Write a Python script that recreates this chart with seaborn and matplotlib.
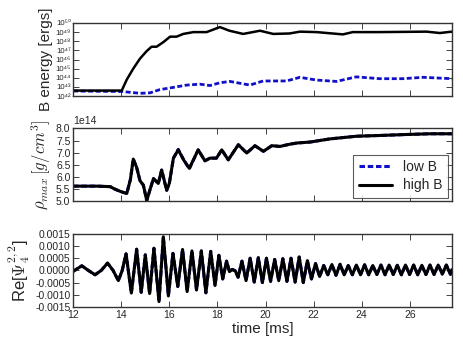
import numpy as np
import matplotlib
matplotlib.use("Agg")
import matplotlib.pyplot as plt
from matplotlib.ticker import FixedLocator, FuncFormatter, FormatStrFormatter, MultipleLocator
import seaborn as sns

# --- top panel: magnetic energy (log10 of ergs) ---
eb_high_time = [12.0, 13.0, 14.02, 14.23, 14.5, 14.78, 15.05, 15.26, 15.47, 15.75,
                16.03, 16.3, 16.58, 17.0, 17.55, 17.8, 18.1, 18.5, 19.07, 19.77,
                20.32, 21.0, 21.43, 22.12, 23.22, 23.63, 24.75, 26.69, 27.25, 27.75]
eb_high_log = [42.6, 42.6, 42.6, 43.8, 45.0, 46.1, 46.9, 47.4, 47.4, 47.9,
               48.5, 48.5, 48.8, 49.0, 49.0, 49.25, 49.55, 49.15, 48.8, 49.15,
               48.8, 48.85, 49.05, 49.0, 48.75, 49.0, 49.0, 49.05, 48.9, 49.05]
eb_low_time = [12.0, 14.02, 14.78, 15.2, 15.6, 16.17, 16.72, 17.27, 17.69, 18.1,
               18.52, 19.35, 19.9, 20.87, 21.43, 22.12, 22.95, 23.77, 24.75, 25.7,
               26.55, 27.75]
eb_low_log = [42.55, 42.5, 42.3, 42.35, 42.7, 42.95, 43.2, 43.3, 43.15, 43.45,
              43.6, 43.2, 43.65, 43.65, 44.05, 43.75, 43.6, 44.1, 43.9, 43.9,
              44.05, 43.9]
eb_decades = [42, 43, 44, 45, 46, 47, 48, 49, 50]

# --- middle panel: max density (units of 1e14 g/cm^3) ---
rho_time = [12.0, 13.0, 13.54, 13.75, 14.0, 14.23, 14.38, 14.5, 14.64, 14.78,
            14.92, 15.06, 15.2, 15.34, 15.54, 15.68, 15.89, 16.0, 16.17, 16.37,
            16.6, 16.83, 17.2, 17.48, 17.69, 17.96, 18.18, 18.45, 18.87, 19.22,
            19.56, 19.91, 20.26, 20.6, 21.0, 21.3, 21.85, 22.68, 23.79, 24.75,
            25.86, 26.83, 27.75]
rho_high = [5.63, 5.63, 5.61, 5.5, 5.4, 5.33, 5.9, 6.74, 6.4, 5.85,
            5.67, 5.04, 5.5, 5.94, 5.74, 6.29, 5.46, 5.75, 6.78, 7.12,
            6.7, 6.36, 7.12, 6.67, 6.78, 6.78, 7.12, 6.71, 7.33, 6.99,
            7.29, 7.06, 7.29, 7.26, 7.35, 7.4, 7.44, 7.57, 7.68, 7.71,
            7.75, 7.78, 7.78]
rho_low = [5.63, 5.63, 5.61, 5.5, 5.4, 5.33, 5.9, 6.74, 6.4, 5.85,
           5.67, 5.04, 5.5, 5.94, 5.74, 6.29, 5.46, 5.75, 6.78, 7.14,
           6.7, 6.34, 7.12, 6.67, 6.78, 6.78, 7.12, 6.71, 7.33, 6.99,
           7.29, 7.06, 7.29, 7.26, 7.35, 7.4, 7.44, 7.57, 7.68, 7.71,
           7.75, 7.78, 7.78]

# --- bottom panel: Re[Psi4^(2,2)] ---
gw_time = [
    12.00, 12.36, 12.63, 12.91, 13.17, 13.43, 13.66, 13.88, 14.04, 14.20,
    14.42, 14.64, 14.83, 15.00, 15.18, 15.36, 15.57, 15.75, 15.96, 16.15,
    16.35, 16.55, 16.74, 16.94, 17.13, 17.33, 17.52, 17.72, 17.90, 18.06,
    18.22, 18.38, 18.50, 18.62, 18.74, 18.86, 19.02, 19.19, 19.36, 19.53,
    19.70, 19.87, 20.04, 20.21, 20.38, 20.55, 20.72, 20.89, 21.06, 21.23,
    21.40, 21.57, 21.74, 21.91, 22.08, 22.25, 22.42, 22.59, 22.76, 22.93,
    23.10, 23.27, 23.44, 23.61, 23.78, 23.95, 24.12, 24.29, 24.46, 24.63,
    24.80, 24.97, 25.14, 25.31, 25.48, 25.65, 25.82, 25.99, 26.16, 26.33,
    26.50, 26.67, 26.84, 27.01, 27.18, 27.35, 27.52, 27.69, 27.75,
]
gw_value = [
    -0.00004, 0.00019, 0.0, -0.00018, 0.0, 0.00030, 0.0, -0.00042, 0.0, 0.00068,
    -0.00093, 0.00087, -0.00090, 0.00064, -0.00095, 0.00091, -0.00128, 0.00138, -0.00105, 0.00070,
    -0.00066, 0.00086, -0.00087, 0.00080, -0.00080, 0.00080, -0.00092, 0.00078, -0.00062, 0.00062,
    -0.00035, 0.00038, -0.00005, 0.00004, -0.00002, -0.00028, 0.00038, -0.00042, 0.00050, -0.00048,
    0.00052, -0.00050, 0.00050, -0.00045, 0.00045, -0.00042, 0.00048, -0.00045, 0.00050, -0.00048,
    0.00055, -0.00050, 0.00040, -0.00035, 0.00028, -0.00025, 0.00020, -0.00018, 0.00024, -0.00020,
    0.00025, -0.00018, 0.00020, -0.00018, 0.00022, -0.00018, 0.00023, -0.00018, 0.00020, -0.00017,
    0.00022, -0.00018, 0.00022, -0.00017, 0.00021, -0.00018, 0.00022, -0.00017, 0.00022, -0.00018,
    0.00021, -0.00017, 0.00022, -0.00017, 0.00022, -0.00015, 0.00022, -0.00016, 0.00003,
]

x_ticks = [12, 14, 16, 18, 20, 22, 24, 26]

sns.set_style("ticks")
plt.rcParams["font.family"] = ["Liberation Sans", "DejaVu Sans"]
plt.rcParams["mathtext.fontset"] = "cm"
plt.rcParams["axes.unicode_minus"] = False
plt.rcParams["xtick.direction"] = "in"
plt.rcParams["ytick.direction"] = "in"
plt.rcParams["xtick.top"] = True
plt.rcParams["ytick.right"] = True
plt.rcParams["axes.edgecolor"] = "#333333"
plt.rcParams["axes.linewidth"] = 1.0

low_col = "#1010c8"
lw = 2.2
dash = (0, (1.8, 0.9))

SUP = str.maketrans("0123456789", "⁰¹²³⁴⁵⁶⁷⁸⁹")


def pow10_label(v, pos):
    return "10" + str(int(round(np.log10(v)))).translate(SUP)


fig, axes = plt.subplots(3, 1, figsize=(4.63, 3.48), dpi=100, sharex=True)
fig.subplots_adjust(left=0.158, right=0.976, top=0.934, bottom=0.118, hspace=0.443)
ax1, ax2, ax3 = axes

# top
sns.lineplot(x=eb_low_time, y=10 ** np.array(eb_low_log), ax=ax1, color=low_col,
             linewidth=2.0, linestyle=dash)
sns.lineplot(x=eb_high_time, y=10 ** np.array(eb_high_log), ax=ax1, color="black",
             linewidth=1.8)
ax1.set_yscale("log")
ax1.set_ylim(1e42, 1e50)
ax1.yaxis.set_major_locator(FixedLocator([10.0 ** d for d in eb_decades]))
ax1.yaxis.set_major_formatter(FuncFormatter(pow10_label))
ax1.set_ylabel("B energy [ergs]", fontsize=11, labelpad=2)

# middle
sns.lineplot(x=rho_time, y=np.array(rho_low) * 1e14, ax=ax2, color=low_col,
             linewidth=lw, linestyle=dash, label="low B")
sns.lineplot(x=rho_time, y=np.array(rho_high) * 1e14, ax=ax2, color="black",
             linewidth=lw, label="high B")
ax2.set_ylim(5.0e14, 8.0e14)
ax2.yaxis.set_major_locator(MultipleLocator(0.5e14))
ax2.set_ylabel(r"$\rho_{max}\, [g/cm^3]$", fontsize=12, labelpad=2)
ax2.yaxis.get_offset_text().set_fontsize(7.5)
leg = ax2.legend(loc="lower right", fontsize=10, frameon=True, fancybox=False,
                 edgecolor="#333333", handlelength=2.4, borderpad=0.4,
                 labelspacing=0.3, borderaxespad=0.25)
leg.get_frame().set_linewidth(0.8)

# bottom
sns.lineplot(x=gw_time, y=gw_value, ax=ax3, color=low_col, linewidth=lw,
             linestyle=dash)
sns.lineplot(x=gw_time, y=gw_value, ax=ax3, color="black", linewidth=lw)
ax3.set_ylim(-0.0015, 0.0015)
ax3.yaxis.set_major_locator(MultipleLocator(0.0005))
ax3.yaxis.set_major_formatter(FormatStrFormatter("%.4f"))
ax3.set_ylabel(r"Re[$\mathsf{\Psi}_4^{2,2}$]", fontsize=12, labelpad=2)
ax3.set_xlabel("time [ms]", fontsize=11, labelpad=2)

ax3.set_xlim(12, 27.75)
ax3.set_xticks(x_ticks)

for ax in axes:
    ax.tick_params(axis="both", labelsize=7.5, length=4, width=0.6, pad=2)
    ax.tick_params(which="minor", length=2, width=0.5)
    ax.grid(False)
ax1.tick_params(axis="y", labelsize=5.6, pad=1.5)

fig.savefig("out.png", dpi=100)
